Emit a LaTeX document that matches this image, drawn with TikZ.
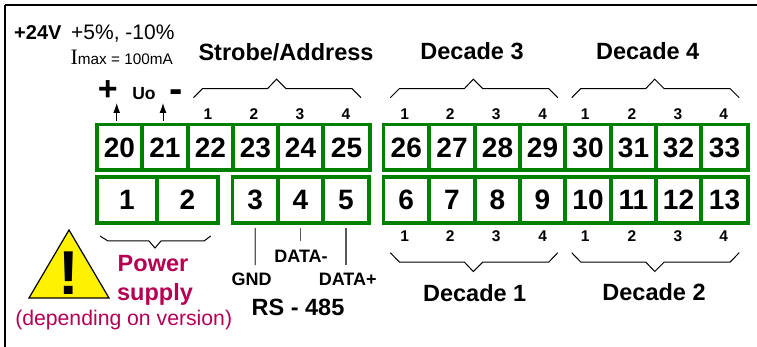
\documentclass[tikz,border=0pt]{standalone}
\usepackage{fontspec}
\setmainfont{Liberation Sans}
\newfontfamily\serifI{Liberation Serif}
\usetikzlibrary{calc,arrows.meta}
\definecolor{termgreen}{RGB}{0,128,0}
\definecolor{powerred}{RGB}{181,0,82}
\newcommand{\fsz}[1]{\fontsize{#1}{#1}\selectfont}
\tikzset{
	term/.style={draw=termgreen,line width=3.6pt,fill=white,inner sep=0pt,font=\fsz{28}\bfseries,text height=20pt,text depth=0pt},
	pin/.style={font=\fsz{15.5}\bfseries,inner sep=0pt},
	head/.style={font=\fsz{23.5}\bfseries,inner sep=0pt,anchor=base},
	wire/.style={draw=black!65,line width=1.2pt},
	brace/.style={line width=1pt,line join=miter},
	uparrow/.style={-{Latex[length=10pt,width=7pt]},line width=1pt},
}
\begin{document}
\begin{tikzpicture}[x=1pt,y=-1pt]
	\useasboundingbox (0,0) rectangle (757,347);
	\draw[line width=2.6pt] (5,5) -- (757,5);
	\draw[line width=2.6pt] (5,5) -- (5,347);

	% top row, then bottom row
	\foreach \n/\xa/\xb in {20/97/142,21/142/188,22/188/233,23/233/278,24/278/323,25/323/370,
		26/383.5/429,27/429/475,28/475/520,29/520/565,30/565/611,31/611/656,32/656/701,33/701/748}
		\node[term,minimum height=45.5pt,minimum width={\xb-\xa}] (t\n) at ({(\xa+\xb)/2},147.25){\n};
	\foreach \n/\xa/\xb in {1/97/157,2/157/218,3/232.5/278,4/278/323,5/323/369,
		6/383.5/429,7/429/475,8/475/520,9/520/565,10/565/611,11/611/656,12/656/701,13/701/748}
		\node[term,minimum height=46pt,minimum width={\xb-\xa}] (t\n) at ({(\xa+\xb)/2},200){\n};

	% small numbers
	\foreach \x/\l [count=\i] in {208/1,254/2,300/3,346/4,404.7/1,450.3/2,496.3/3,542.7/4,585.3/1,632/2,678/3,723.7/4}
		\node[pin] (up\i) at (\x,114){\l};
	\foreach \x/\l [count=\i] in {404.7/1,450.3/2,496.3/3,542.7/4,585.3/1,632/2,678/3,723.7/4}
		\node[pin] (dn\i) at (\x,235.7){\l};

	% brackets
	\foreach \x in {193.5,390.3,571.7}
		\draw[brace] (\x,97.7) -- ++(9,-9) -- ++(65,0) -- ++(9,-9.5) -- ++(9.5,9.5) -- ++(66,0) -- ++(9,9);
	\foreach \x in {390.3,571.7}
		\draw[brace] (\x,252.7) -- ++(9,9.3) -- ++(65,0) -- ++(9,9.5) -- ++(9.5,-9.5) -- ++(66,0) -- ++(9,-9.3);
	\draw[brace] (100,236) -- (108,241) -- (149,241) -- (155,248) -- (161,241) -- (204,241) -- (210.7,236);

	\node[inner sep=0pt,anchor=base west,font=\fsz{20}\bfseries] (volt) at (14,40){+24V};
	\node[inner sep=0pt,anchor=base west,font=\fsz{21}] (tol) at (71,40){+5\%, -10\%};
	\node[inner sep=0pt,anchor=base east,font=\fsz{15.3}] (imax) at (173,65){{\serifI\fsz{22}I}max = 100mA};
	\node[head] (strobe) at (286,61){Strobe/Address};
	\node[head] (dec3) at (472,60){Decade 3};
	\node[head] (dec4) at (647.7,59.3){Decade 4};
	\node[head] (dec1) at (474.7,301.7){Decade 1};
	\node[head] (dec2) at (654,300){Decade 2};

	\node[inner sep=0pt,font=\fsz{34}\bfseries] (plus) at (107.7,91){+};
	\node[inner sep=0pt,anchor=base,font=\fsz{17.5}\bfseries] (uo) at (144,99.3){Uo};
	\node[inner sep=0pt,font=\fsz{40}\bfseries] (minus) at (176,96){-};
	\coordinate (up20) at (116.7,103);
	\coordinate (up21) at (163,103);
	\draw[uparrow] ($(t20.north)+(-2.8,-2)$) -- (up20);
	\draw[uparrow] ($(t21.north)+(-2,-2)$) -- (up21);

	% RS-485
	\node[inner sep=0pt,anchor=base,font=\fsz{18}\bfseries] (gnd) at (251.7,285){GND};
	\node[inner sep=0pt,anchor=base,font=\fsz{18}\bfseries] (dminus) at (301,262){DATA-};
	\node[inner sep=0pt,anchor=base,font=\fsz{18}\bfseries] (dplus) at (347.7,285.7){DATA+};
	\node[head] (rs) at (298,315.7){RS - 485};
	\coordinate (endgnd) at (255.2,265);
	\coordinate (endminus) at (300.5,241);
	\coordinate (endplus) at (346,265);
	\draw[wire] ($(t3.south)+(0,3)$) -- (endgnd);
	\draw[wire] ($(t4.south)+(0,3)$) -- (endminus);
	\draw[wire] ($(t5.south)+(0,3)$) -- (endplus);

	% warning sign
	\draw[fill=yellow,line width=1.2pt,line join=miter] (69,230) -- (109,298) -- (29,298) -- cycle;
	\node[inner sep=0pt,anchor=base,font=\fsz{62}\bfseries] (bang) at (69,294){!};
	\node[head,text=powerred] (power) at (153,271.7){Power};
	\node[head,text=powerred] (supply) at (155,300){supply};
	\node[inner sep=0pt,anchor=base,text=powerred,font=\fsz{21.2}] (vers) at (123.7,325){(depending on version)};
\end{tikzpicture}
\end{document}
